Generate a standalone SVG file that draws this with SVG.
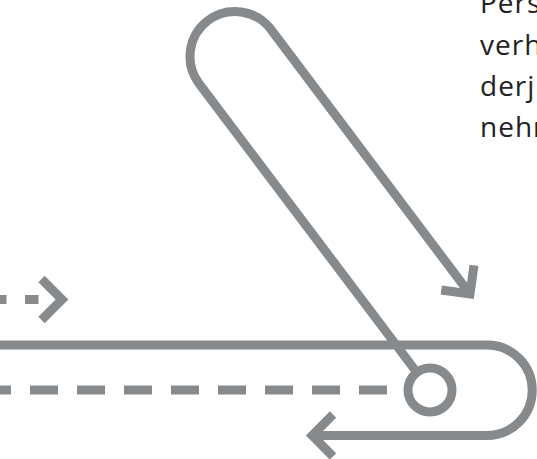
<svg xmlns="http://www.w3.org/2000/svg" width="537" height="459" viewBox="0 0 537 459">
<style>
.ln{fill:none;stroke:#878a8c;stroke-width:9;stroke-linejoin:miter;stroke-linecap:butt}
.tx{font-family:"Open Sans","Noto Sans",sans-serif;font-size:28px;letter-spacing:1px;fill:#222}
</style>
<rect width="537" height="459" fill="#fff"/>
<g id="connectors">
<path id="hairpin" class="ln" d="M416.8 372.4 L199 83.5 A45 45 0 0 1 271 29.5 L470 294"/>
<path id="hairpin-head" class="ln" d="M441.3 290 L470 294 L474 265.3"/>
<path id="loop" class="ln" d="M0 345 H487 A45.25 45.25 0 0 1 487 435.5 H312"/>
<path id="loop-head" class="ln" d="M333 414.5 L312.2 435.5 L333 456.5"/>
<path id="dash-lower" class="ln" d="M387 390 H-10" stroke-dasharray="28 19"/>
<path id="dash-upper" class="ln" d="M0 299.5 H6.5 M25 299.5 H38.5"/>
<path id="upper-head" class="ln" d="M41.5 279 L62 299.5 L41.5 320"/>
</g>
<g id="node-circle">
<circle class="ln" cx="430" cy="390" r="22"/>
</g>
<g id="label">
<text class="tx" x="480" y="13">Pers</text>
<text class="tx" x="480" y="55">verh</text>
<text class="tx" x="480" y="96">derj</text>
<text class="tx" x="480" y="137">nehr</text>
</g>
</svg>
